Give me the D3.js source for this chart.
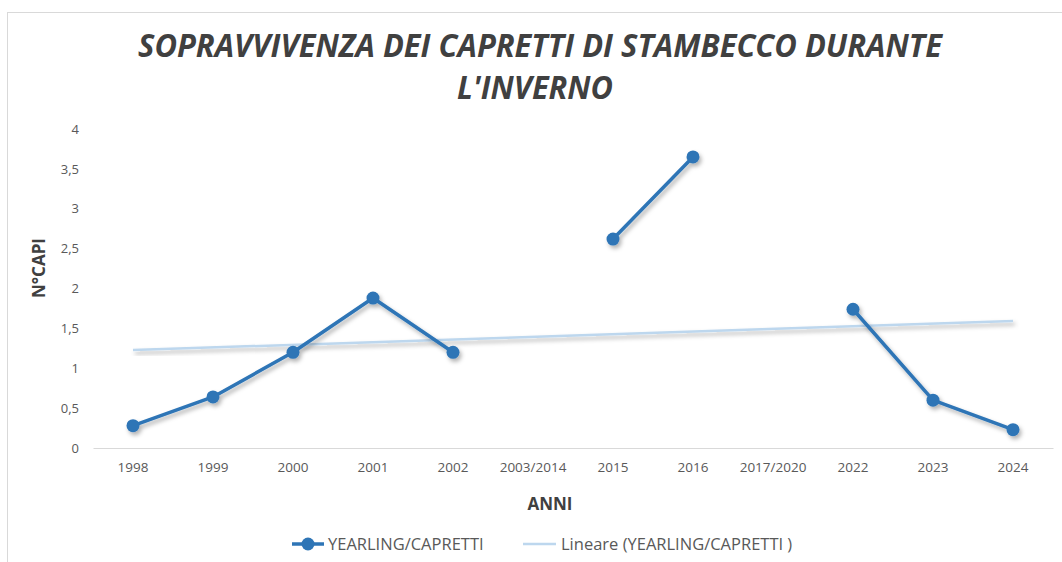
<!DOCTYPE html>
<html lang="it">
<head>
<meta charset="utf-8">
<title>Sopravvivenza dei capretti di stambecco</title>
<script src="https://cdn.jsdelivr.net/npm/d3@7"></script>
<style>
  body { margin: 0; background: #fff; }
  svg text { font-family: "Liberation Sans Narrow", "Open Sans", sans-serif; }
  .tick text { fill: #595959; font-size: 13px; }
</style>
</head>
<body>
<script>
// categorie (anni) e valori della serie
var years = ["1998", "1999", "2000", "2001", "2002", "2003/2014", "2015", "2016", "2017/2020", "2022", "2023", "2024"];
var values = [0.28, 0.64, 1.2, 1.88, 1.2, null, 2.62, 3.65, null, 1.74, 0.6, 0.23];
var yTicks = [0, 0.5, 1, 1.5, 2, 2.5, 3, 3.5, 4];

var W = 1062, H = 562;
var margin = { top: 129, left: 93, right: 9, bottom: 114 };
var plotW = W - margin.left - margin.right;
var plotH = H - margin.top - margin.bottom;

var svg = d3.select("body").append("svg")
    .attr("width", W)
    .attr("height", H);

// ombra come in Excel
var defs = svg.append("defs");
defs.append("filter").attr("id", "shadow")
    .attr("x", "-20%").attr("y", "-20%").attr("width", "140%").attr("height", "140%")
    .append("feDropShadow")
    .attr("dx", 2).attr("dy", 3).attr("stdDeviation", 2)
    .attr("flood-color", "#000").attr("flood-opacity", 0.3);

// cornice del grafico
svg.append("rect")
    .attr("x", 7.5).attr("y", 12.5)
    .attr("width", 1100).attr("height", 600)
    .attr("fill", "none")
    .attr("stroke", "#d9d9d9");

var g = svg.append("g")
    .attr("transform", "translate(" + margin.left + "," + margin.top + ")");

var x = d3.scaleBand().domain(years).range([0, plotW]);
var y = d3.scaleLinear().domain([0, 4]).range([plotH, 0]);
var fmt = function(d) { return String(d).replace(".", ","); };

// asse y (solo etichette)
var yAxis = g.append("g")
    .call(d3.axisLeft(y).tickValues(yTicks).tickFormat(fmt).tickSize(0).tickPadding(14));
yAxis.select(".domain").remove();

// asse x
var xAxis = g.append("g")
    .attr("transform", "translate(0," + plotH + ")")
    .call(d3.axisBottom(x).tickSize(0).tickPadding(14));
xAxis.select(".domain").attr("stroke", "#d9d9d9");
xAxis.selectAll(".tick text").style("font-size", "13.5px");

// linea di tendenza lineare (minimi quadrati sui punti presenti)
var pts = [];
values.forEach(function(v, i) { if (v != null) pts.push([i + 1, v]); });
var mx = d3.mean(pts, function(p) { return p[0]; });
var my = d3.mean(pts, function(p) { return p[1]; });
var slope = d3.sum(pts, function(p) { return (p[0] - mx) * (p[1] - my); }) /
            d3.sum(pts, function(p) { return (p[0] - mx) * (p[0] - mx); });
var trend = [1, years.length].map(function(i) { return [i, my + slope * (i - mx)]; });

var cx = function(i) { return x(years[i]) + x.bandwidth() / 2; };

g.append("path")
    .datum(trend)
    .attr("fill", "none")
    .attr("stroke", "#bdd7ee")
    .attr("stroke-width", 2.5)
    .attr("filter", "url(#shadow)")
    .attr("d", d3.line()
        .x(function(d) { return cx(d[0] - 1); })
        .y(function(d) { return y(d[1]); }));

// serie principale
var series = g.append("g").attr("filter", "url(#shadow)");
series.append("path")
    .datum(values)
    .attr("fill", "none")
    .attr("stroke", "#2e75b6")
    .attr("stroke-width", 3.5)
    .attr("stroke-linejoin", "round")
    .attr("d", d3.line()
        .defined(function(d) { return d != null; })
        .x(function(d, i) { return cx(i); })
        .y(function(d) { return y(d); }));

series.selectAll("circle")
    .data(values.map(function(v, i) { return { v: v, i: i }; }).filter(function(d) { return d.v != null; }))
    .enter().append("circle")
    .attr("cx", function(d) { return cx(d.i); })
    .attr("cy", function(d) { return y(d.v); })
    .attr("r", 6.5)
    .attr("fill", "#2e75b6");

// titoli
var title = svg.append("text")
    .attr("text-anchor", "middle")
    .attr("font-size", "33px")
    .attr("font-weight", "bold")
    .attr("font-style", "italic")
    .attr("fill", "#404040");
title.append("tspan").attr("x", 540).attr("y", 57)
    .attr("textLength", 804).attr("lengthAdjust", "spacingAndGlyphs")
    .text("SOPRAVVIVENZA DEI CAPRETTI DI STAMBECCO DURANTE");
title.append("tspan").attr("x", 535).attr("y", 99)
    .attr("textLength", 156).attr("lengthAdjust", "spacingAndGlyphs")
    .text("L'INVERNO");

svg.append("text")
    .attr("transform", "translate(45,268) rotate(-90)")
    .attr("text-anchor", "middle")
    .attr("font-size", "17px")
    .attr("font-weight", "bold")
    .attr("fill", "#404040")
    .text("N°CAPI");

svg.append("text")
    .attr("x", 550).attr("y", 510)
    .attr("text-anchor", "middle")
    .attr("font-size", "17px")
    .attr("font-weight", "bold")
    .attr("fill", "#404040")
    .text("ANNI");

// legenda
var leg = svg.append("g").attr("transform", "translate(0,544)");
leg.append("line").attr("x1", 292).attr("x2", 324).attr("y1", 0).attr("y2", 0)
    .attr("stroke", "#2e75b6").attr("stroke-width", 3.5);
leg.append("circle").attr("cx", 308).attr("cy", 0).attr("r", 6.5).attr("fill", "#2e75b6");
leg.append("text").attr("x", 328).attr("y", 6).attr("font-size", "16.5px").attr("fill", "#595959")
    .text("YEARLING/CAPRETTI");
leg.append("line").attr("x1", 523).attr("x2", 556).attr("y1", 0).attr("y2", 0)
    .attr("stroke", "#bdd7ee").attr("stroke-width", 2.5);
leg.append("text").attr("x", 561).attr("y", 6).attr("font-size", "16.5px").attr("fill", "#595959")
    .text("Lineare (YEARLING/CAPRETTI )");
</script>
</body>
</html>
